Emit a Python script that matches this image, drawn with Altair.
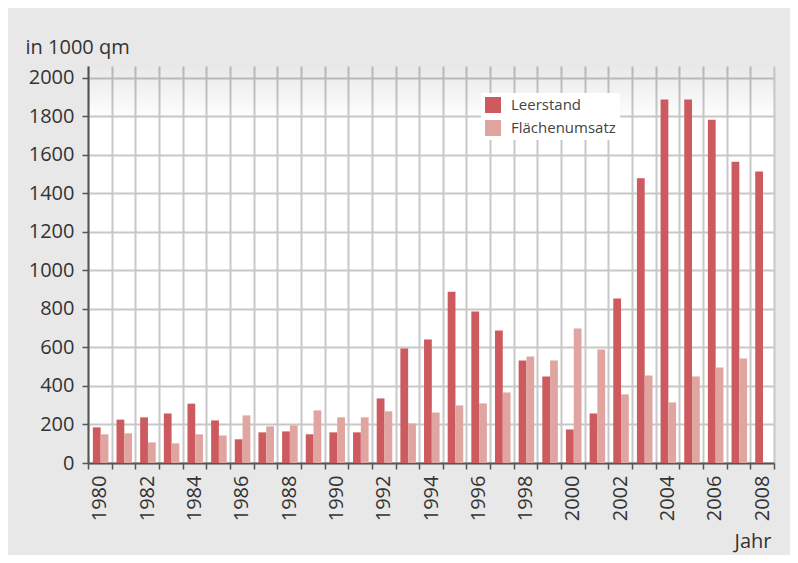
import altair as alt
import pandas as pd

years = list(range(1980, 2009))
leerstand = [185, 225, 237, 257, 308, 221, 123, 159, 164, 149, 159, 159, 335, 594, 641,
             889, 786, 687, 532, 449, 174, 257, 853, 1477, 1886, 1886, 1781, 1563, 1512]
flaechenumsatz = [149, 154, 107, 102, 149, 143, 247, 190, 195, 273, 237, 237, 268, 205, 262,
                  299, 309, 366, 553, 532, 698, 589, 356, 454, 314, 449, 496, 542, None]
series = ["Leerstand", "Flächenumsatz"]
colors = ["#cd5a5f", "#e0a5a0"]

rows = []
for i, y in enumerate(years):
    rows.append({"Jahr": y, "Serie": series[0], "Wert": leerstand[i]})
    rows.append({"Jahr": y, "Serie": series[1], "Wert": flaechenumsatz[i]})
df = pd.DataFrame(rows)

FONT = "Open Sans"
TXT = "#333333"

yscale = alt.Scale(domain=[0, 2060], nice=False)
yaxis = alt.Axis(
    title="in 1000 qm", values=list(range(0, 2001, 200)), format="d",
    grid=True, tickSize=6, labelPadding=8,
    titleAngle=0, titleX=-63, titleY=-19,
    titleAlign="left", titleBaseline="middle",
)

grad = alt.Chart(pd.DataFrame({"a": [0]})).mark_rect(
    fill=alt.Gradient(
        gradient="linear",
        stops=[alt.GradientStop(color="rgba(0,0,0,0.09)", offset=0),
               alt.GradientStop(color="rgba(0,0,0,0)", offset=1)],
        x1=0, x2=0, y1=0, y2=1,
    )
).encode(
    x=alt.value(0), x2=alt.value(686),
    y=alt.Y(datum=2060, type="quantitative", scale=yscale, axis=yaxis),
    y2=alt.Y2(datum=1780),
)

bars = alt.Chart(df).mark_bar().encode(
    x=alt.X("Jahr:O",
            scale=alt.Scale(paddingInner=0, paddingOuter=0),
            axis=alt.Axis(
                title="Jahr", tickBand="extent", grid=True,
                labelExpr="datum.value % 2 == 0 ? datum.label : ''",
                labelAngle=270, labelAlign="right", labelBaseline="middle",
                labelPadding=6, tickSize=6,
                titleX=683, titleY=78, titleAlign="right", titleBaseline="middle",
                titleAnchor="end",
            )),
    xOffset=alt.XOffset("Serie:N", sort=series,
                        scale=alt.Scale(paddingInner=0, paddingOuter=0.52, align=0.6)),
    y=alt.Y("Wert:Q", scale=yscale, axis=yaxis),
    color=alt.Color("Serie:N", sort=series,
                    scale=alt.Scale(domain=series, range=colors),
                    legend=alt.Legend(
                        title=None, orient="none", legendX=393, legendY=27,
                        fillColor="white", padding=4, symbolType="square",
                        symbolSize=256, symbolStrokeWidth=0, labelFontSize=15,
                        labelColor="#444444", labelFont=FONT, rowPadding=7,
                        labelOffset=10,
                    )),
)

chart = alt.layer(grad, bars).properties(
    width=686, height=397,
    padding={"left": 80, "top": 58, "right": 16, "bottom": 92},
    autosize=alt.AutoSizeParams(type="none"),
    background="#e8e8e8",
).configure_view(
    stroke=None, fill="white"
).configure_axis(
    labelFont=FONT, titleFont=FONT, labelFontSize=20, titleFontSize=20,
    labelColor=TXT, titleColor=TXT, titleFontWeight="normal",
    domainColor="#555555", domainWidth=2, tickColor="#555555", tickWidth=1.5,
    gridColor="#c8c8c8", gridWidth=2,
)

chart.save("out.html", embed_options={"renderer": "svg", "actions": False})
